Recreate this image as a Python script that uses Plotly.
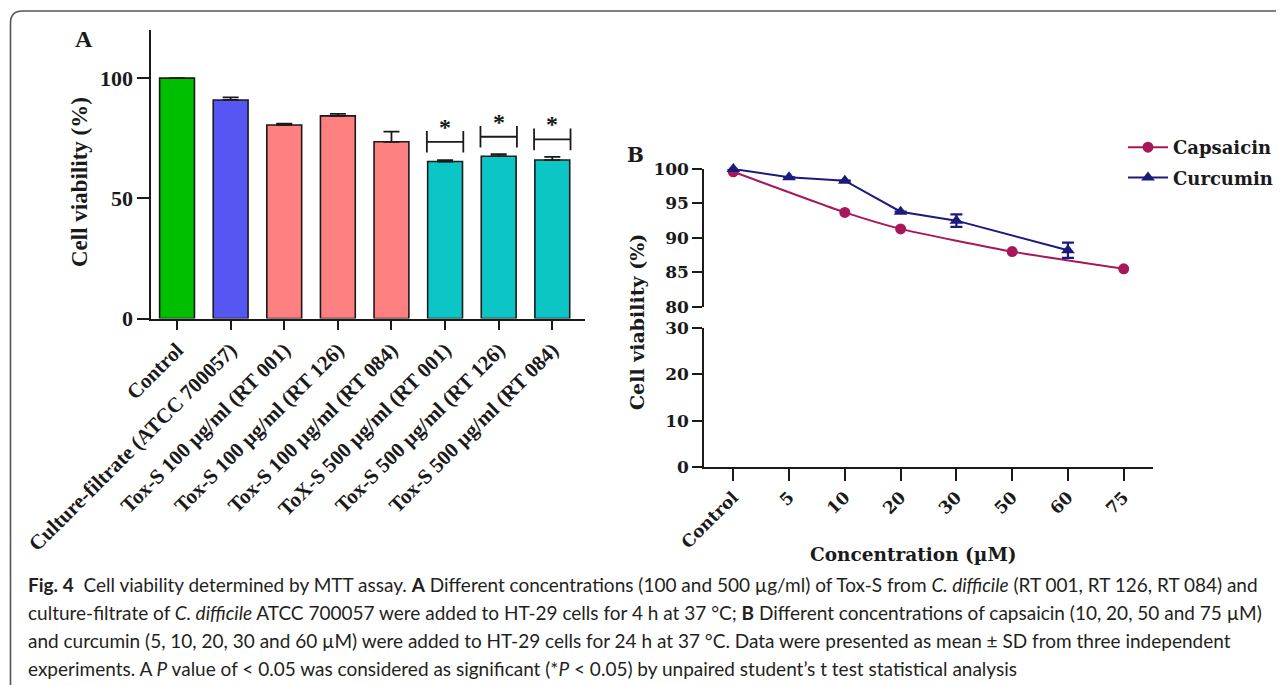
import plotly.graph_objects as go

W, H = 1284, 685
OFF = 8  # page body margin of the browser

# ---------------- Panel A data ----------------
groups_a = ["Control", "Culture-filtrate (ATCC 700057)", "Tox-S 100 µg/ml (RT 001)",
            "Tox-S 100 µg/ml (RT 126)", "Tox-S 100 µg/ml (RT 084)", "ToX-S 500 µg/ml (RT 001)",
            "Tox-S 500 µg/ml (RT 126)", "Tox-S 500 µg/ml (RT 084)"]
viability_a = [100, 90.9, 80.5, 84.3, 73.5, 65.3, 67.5, 65.9]
sd_a = [0, 1.1, 0.5, 0.8, 4.2, 0.6, 0.9, 1.3]
colors_a = ["#00BE00", "#5656F2", "#FF8080", "#FF8080", "#FF8080", "#0CC6C6", "#0CC6C6", "#0CC6C6"]
sig_index = [5, 6, 7]
sig_height = [73.5, 75.6, 74.5]

# ---------------- Panel B data ----------------
conc_b = ["Control", "5", "10", "20", "30", "50", "60", "75"]
caps_x = ["Control", "10", "20", "50", "75"]
caps_y = [99.6, 93.7, 91.3, 88.0, 85.5]
curc_x = ["Control", "5", "10", "20", "30", "60"]
curc_y = [100, 98.8, 98.3, 93.8, 92.5, 88.2]
curc_sd = [0, 0, 0, 0, 0.9, 1.1]

def px_x(p):
    return (p - OFF) / W

def px_y(p):
    return 1 - (p - OFF) / H

AX = "#1a1a1a"
SERIF_A = "Liberation Serif"
SERIF_B = "DejaVu Serif"

fig = go.Figure()

fig.add_trace(go.Bar(
    x=groups_a, y=viability_a, width=0.65,
    marker=dict(color=colors_a, line=dict(color=AX, width=1.6)),
    error_y=dict(type="data", array=sd_a, arrayminus=[0] * len(sd_a), symmetric=False,
                 color=AX, thickness=1.8, width=8),
    xaxis="x", yaxis="y", showlegend=False, hoverinfo="skip"))

fig.add_trace(go.Scatter(
    x=caps_x, y=caps_y, mode="lines+markers", name="Capsaicin",
    line=dict(color="#A8175A", width=2, shape="spline", smoothing=0.5),
    marker=dict(symbol="circle", size=11, color="#A8175A"),
    xaxis="x2", yaxis="y2", cliponaxis=False, legendgroup="a"))

fig.add_trace(go.Scatter(
    x=curc_x, y=curc_y, mode="lines+markers", name="Curcumin",
    line=dict(color="#1B1B7D", width=2),
    marker=dict(symbol="triangle-up", size=12, color="#1B1B7D"),
    error_y=dict(type="data", array=curc_sd, color="#1B1B7D", thickness=2.2, width=6),
    xaxis="x2", yaxis="y2", cliponaxis=False, legendgroup="b"))

fig.add_trace(go.Scatter(x=[], y=[], xaxis="x2", yaxis="y3", showlegend=False))

axis_common = dict(showline=True, linecolor=AX, linewidth=2, ticks="outside",
                   tickcolor=AX, tickwidth=2, showgrid=False, zeroline=False,
                   fixedrange=True, automargin=False)

fig.update_layout(
    template="none",
    width=W, height=H, margin=dict(l=0, r=0, t=0, b=0, pad=0), autosize=False,
    paper_bgcolor="white", plot_bgcolor="rgba(0,0,0,0)",
    xaxis=dict(domain=[px_x(151.3), px_x(585)], anchor="y", type="category",
               categoryorder="array", categoryarray=groups_a, range=[-0.48, 7.61],
               ticklen=9, tickangle=-45,
               tickfont=dict(family=SERIF_A, size=21, color=AX, weight="bold"),
               **axis_common),
    yaxis=dict(domain=[px_y(318.5), px_y(30)], anchor="x", range=[0, 120],
               tickvals=[0, 50, 100], ticklen=12,
               tickfont=dict(family=SERIF_A, size=22, color=AX, weight="bold"),
               **axis_common),
    xaxis2=dict(domain=[px_x(704.3), px_x(1152.7)], anchor="y3", type="category",
                categoryorder="array", categoryarray=conc_b, range=[-0.52, 7.52],
                ticklen=12, tickangle=-45,
                tickfont=dict(family=SERIF_B, size=17, color=AX, weight="bold"),
                **axis_common),
    yaxis2=dict(domain=[px_y(306.7), px_y(169)], anchor="x2", range=[80, 100],
                tickvals=[80, 85, 90, 95, 100], ticklen=10,
                tickfont=dict(family=SERIF_B, size=17, color=AX, weight="bold"),
                **axis_common),
    yaxis3=dict(domain=[px_y(466.7), px_y(328.3)], anchor="x2", range=[0, 30],
                tickvals=[0, 10, 20, 30], ticklen=10,
                tickfont=dict(family=SERIF_B, size=17, color=AX, weight="bold"),
                **axis_common),
    legend=dict(x=px_x(1123), y=px_y(129), xanchor="left", yanchor="top",
                bgcolor="rgba(0,0,0,0)", tracegroupgap=4, itemwidth=40,
                font=dict(family=SERIF_B, size=18, color=AX, weight="bold")),
)

# significance brackets
for i, h in zip(sig_index, sig_height):
    for (x0, y0, x1, y1) in [(i - 0.34, h, i + 0.34, h),
                             (i - 0.34, h - 4.5, i - 0.34, h + 4.5),
                             (i + 0.34, h - 4.5, i + 0.34, h + 4.5)]:
        fig.add_shape(type="line", xref="x", yref="y", x0=x0, y0=y0, x1=x1, y1=y1,
                      line=dict(color=AX, width=1.8))
    fig.add_annotation(x=i, y=h, xref="x", yref="y", text="<b>*</b>", showarrow=False,
                       yanchor="bottom", yshift=0,
                       font=dict(family=SERIF_A, size=24, color=AX))

annots = [
    dict(x=px_x(84), y=px_y(38.5), text="<b>A</b>", size=24, family=SERIF_A, angle=0),
    dict(x=px_x(635.5), y=px_y(155), text="<b>B</b>", size=20, family=SERIF_B, angle=0),
    dict(x=px_x(80), y=px_y(182), text="<b>Cell viability (%)</b>", size=23, family=SERIF_A, angle=-90),
    dict(x=px_x(637), y=px_y(322), text="<b>Cell viability (%)</b>", size=19, family=SERIF_B, angle=-90),
    dict(x=px_x(913), y=px_y(554), text="<b>Concentration (µM)</b>", size=18.5, family=SERIF_B, angle=0),
]
for a in annots:
    fig.add_annotation(x=a["x"], y=a["y"], xref="paper", yref="paper", text=a["text"],
                       showarrow=False, textangle=a["angle"], xanchor="center", yanchor="middle",
                       font=dict(family=a["family"], size=a["size"], color=AX))

caption = [
    "<b>Fig. 4</b>  Cell viability determined by MTT assay. <b>A</b> Different concentrations (100 and 500 µg/ml) of Tox-S from <i>C. difficile</i> (RT 001, RT 126, RT 084) and",
    "culture-filtrate of <i>C. difficile</i> ATCC 700057 were added to HT-29 cells for 4 h at 37 °C; <b>B</b> Different concentrations of capsaicin (10, 20, 50 and 75 µM)",
    "and curcumin (5, 10, 20, 30 and 60 µM) were added to HT-29 cells for 24 h at 37 °C. Data were presented as mean ± SD from three independent",
    "experiments. A <i>P</i> value of &lt; 0.05 was considered as significant (*<i>P</i> &lt; 0.05) by unpaired student’s t test statistical analysis",
]
cap_y = [584, 612, 640, 668]
for t, yy in zip(caption, cap_y):
    fig.add_annotation(x=px_x(26), y=px_y(yy), xref="paper", yref="paper", text=t,
                       showarrow=False, xanchor="left", yanchor="middle", align="left",
                       font=dict(family="Lato, Liberation Sans, sans-serif",
                                 size=19, color="#231f20"))

# frame with rounded top-left corner
x0 = px_x(10.5)
yt = px_y(11)
r_x = 12 / W
r_y = 12 / H
fig.add_shape(type="path", xref="paper", yref="paper",
              path=f"M {x0},-0.01 L {x0},{yt - r_y} Q {x0},{yt} {x0 + r_x},{yt} L 1.01,{yt}",
              line=dict(color="#555555", width=1.6))

fig.write_html("out.html")
